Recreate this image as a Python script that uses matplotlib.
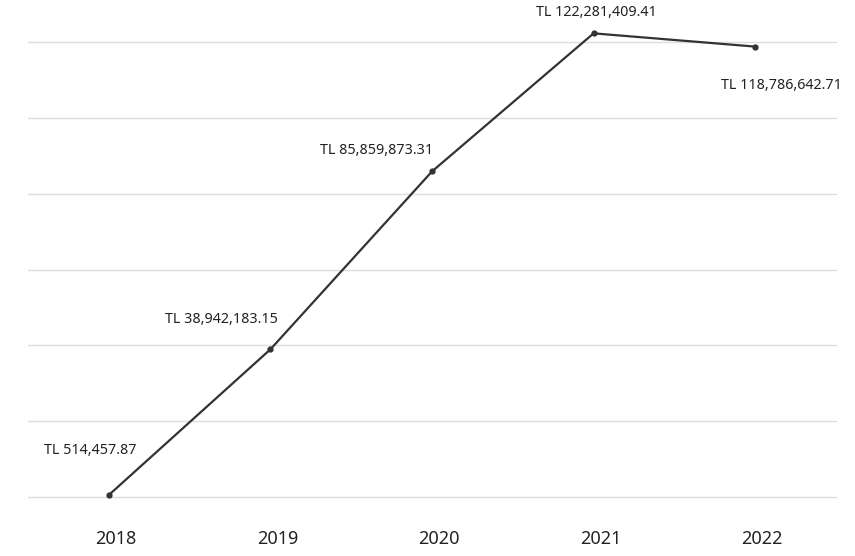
import matplotlib
matplotlib.use("Agg")
import matplotlib.pyplot as plt
from matplotlib.transforms import ScaledTranslation

years = ["2018", "2019", "2020", "2021", "2022"]
values = [514457.87, 38942183.15, 85859873.31, 122281409.41, 118786642.71]
labels = ["TL 514,457.87", "TL 38,942,183.15", "TL 85,859,873.31",
          "TL 122,281,409.41", "TL 118,786,642.71"]
label_offsets = [(-13, 32), (-35, 21.5), (-40, 15), (2, 15), (19, -28)]

plt.rcParams['font.family'] = ['Noto Sans', 'DejaVu Sans']

fig = plt.figure(figsize=(8.55, 5.56), dpi=100)
W, H = 855, 556
left, right, top, bottom = 28, 836, 42, 497
ax = fig.add_axes([left / W, 1 - bottom / H, (right - left) / W, (bottom - top) / H])

x = list(range(len(years)))
ax.plot(x, values, color="#333333", lw=1.6, marker="o", ms=3.5, clip_on=False, zorder=3)
for xi, v, lab, off in zip(x, values, labels, label_offsets):
    ax.annotate(lab, (xi, v), xytext=off, textcoords="offset points",
                ha="center", va="center", fontsize=10.3, color="#222222",
                annotation_clip=False)

ax.set_xlim(-0.5, 4.5)
ax.set_ylim(0, 120e6)
ax.set_yticks([i * 20e6 for i in range(7)])
ax.set_yticklabels([])
ax.set_xticks(x)
ax.set_xticklabels(years, fontsize=13, color="#222222")
ax.tick_params(axis="both", length=0)
ax.tick_params(axis="x", pad=24)
shift = ScaledTranslation(7 / 100, 0, fig.dpi_scale_trans)
for t in ax.get_xticklabels():
    t.set_transform(t.get_transform() + shift)
ax.grid(axis="y", color="#dddddd", lw=1)
for gl in ax.get_ygridlines():
    gl.set_clip_on(False)
ax.set_axisbelow(True)
for s in ax.spines.values():
    s.set_visible(False)

fig.savefig("out.png", dpi=100)
